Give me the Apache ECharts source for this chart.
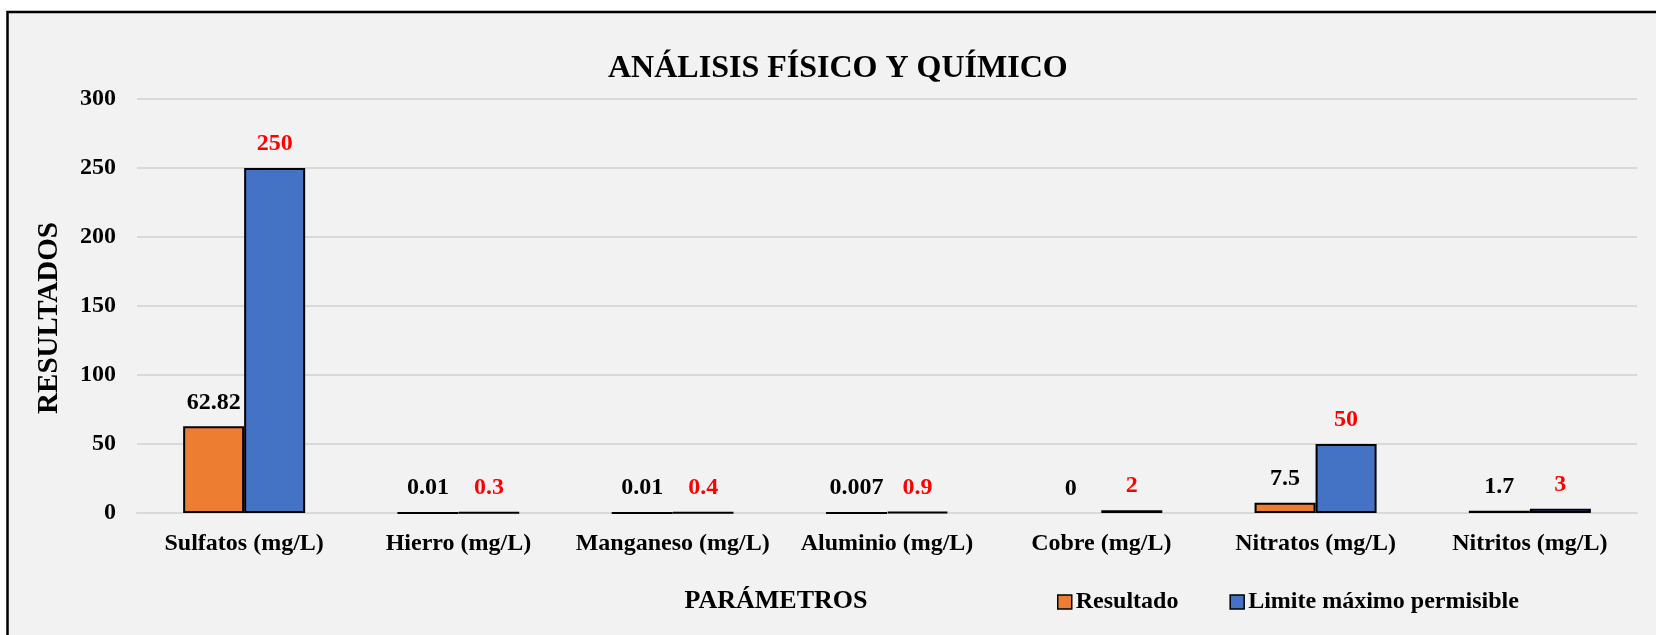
<!DOCTYPE html>
<html>
<head>
<meta charset="utf-8">
<title>Análisis físico y químico</title>
<script src="https://cdn.jsdelivr.net/npm/echarts@6/dist/echarts.min.js"></script>
<style>
  html, body { margin: 0; padding: 0; background: #ffffff; }
  #chart { width: 1656px; height: 635px; }
</style>
</head>
<body>
<div id="chart"></div>
<script>
// Parámetros analizados y sus valores
const categories = [
  'Sulfatos (mg/L)', 'Hierro (mg/L)', 'Manganeso (mg/L)', 'Aluminio (mg/L)',
  'Cobre (mg/L)', 'Nitratos (mg/L)', 'Nitritos (mg/L)'
];
const resultado = [62.82, 0.01, 0.01, 0.007, 0, 7.5, 1.7];
const limiteMaximo = [250, 0.3, 0.4, 0.9, 2, 50, 3];
const yTicks = { min: 0, max: 300, interval: 50 };

const FONT = "'Liberation Serif', 'Times New Roman', serif";

// A zero value has no bar, so it gets no outline either
function toBarData(values) {
  return values.map(v => v === 0 ? { value: v, itemStyle: { borderWidth: 0 } } : v);
}

const chart = echarts.init(document.getElementById('chart'), null, { renderer: 'canvas' });

chart.setOption({
  backgroundColor: '#ffffff',
  animation: false,
  graphic: {
    elements: [{
      type: 'rect',
      z: -100,
      silent: true,
      shape: { x: 7.5, y: 12, width: 2000, height: 1000 },
      style: { fill: '#F2F2F2', stroke: '#000000', lineWidth: 2.5 }
    }]
  },
  title: {
    text: 'ANÁLISIS FÍSICO Y QUÍMICO',
    left: 608,
    top: 53,
    padding: 0,
    textStyle: { fontFamily: FONT, fontSize: 32, fontWeight: 'bold', color: '#000000' }
  },
  legend: {
    left: 1057,
    top: 590,
    padding: 0,
    icon: 'rect',
    itemWidth: 14,
    itemHeight: 14,
    itemGap: 51,
    itemStyle: { borderColor: '#000000', borderWidth: 1.5 },
    textStyle: { fontFamily: FONT, fontSize: 24, fontWeight: 'bold', color: '#000000', padding: [0, 0, 0, -1] },
    data: ['Resultado', 'Limite máximo permisible']
  },
  grid: { left: 137, right: 19, top: 99, bottom: 122 },
  xAxis: {
    type: 'category',
    data: categories,
    name: 'PARÁMETROS',
    nameLocation: 'middle',
    nameGap: 75,
    nameTextStyle: {
      fontFamily: FONT, fontSize: 26, fontWeight: 'bold', color: '#000000',
      padding: [0, 222, 0, 0]
    },
    axisLine: { show: true, lineStyle: { color: '#D9D9D9', width: 2 } },
    axisTick: { show: false },
    axisLabel: {
      margin: 19,
      interval: 0,
      fontFamily: FONT, fontSize: 24, fontWeight: 'bold', color: '#000000'
    }
  },
  yAxis: {
    type: 'value',
    min: yTicks.min,
    max: yTicks.max,
    interval: yTicks.interval,
    name: 'RESULTADOS',
    nameLocation: 'middle',
    nameGap: 73,
    nameRotate: 90,
    nameTextStyle: {
      fontFamily: FONT, fontSize: 29, fontWeight: 'bold', color: '#000000',
      padding: [0, 24, 0, 0]
    },
    axisLine: { show: false },
    axisTick: { show: false },
    splitLine: { lineStyle: { color: '#D9D9D9', width: 2 } },
    axisLabel: {
      margin: 21,
      fontFamily: FONT, fontSize: 24, fontWeight: 'bold', color: '#000000'
    }
  },
  series: [
    {
      name: 'Resultado',
      type: 'bar',
      data: toBarData(resultado),
      barWidth: 61,
      barGap: '0%',
      itemStyle: { color: '#ED7D31', borderColor: '#000000', borderWidth: 2 },
      label: {
        show: true,
        position: 'top',
        distance: 12,
        fontFamily: FONT, fontSize: 24, fontWeight: 'bold', color: '#000000'
      }
    },
    {
      name: 'Limite máximo permisible',
      type: 'bar',
      data: toBarData(limiteMaximo),
      barWidth: 61,
      barGap: '0%',
      itemStyle: { color: '#4472C4', borderColor: '#000000', borderWidth: 2 },
      label: {
        show: true,
        position: 'top',
        distance: 12,
        fontFamily: FONT, fontSize: 24, fontWeight: 'bold', color: '#FF0000'
      }
    }
  ]
});
</script>
</body>
</html>
